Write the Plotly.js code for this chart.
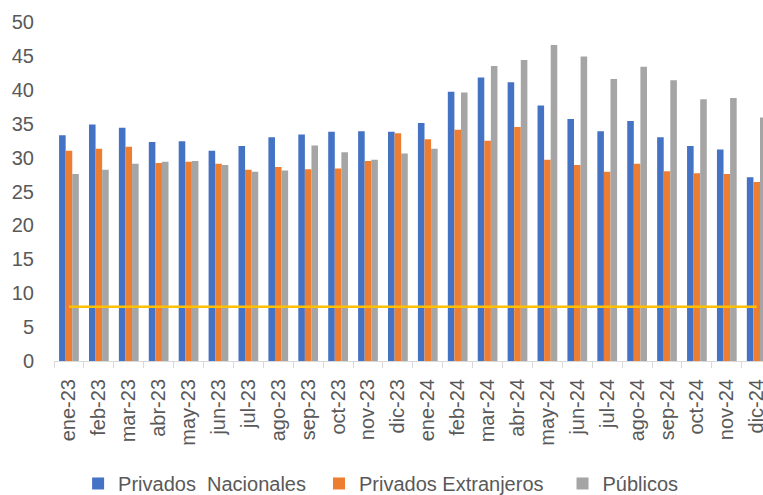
<!DOCTYPE html>
<html><head><meta charset="utf-8">
<script src="https://cdn.plot.ly/plotly-3.0.1.min.js"></script>
<style>html,body{margin:0;padding:0;background:#fff}#c{width:763px;height:495px}</style>
</head><body><div id="c"></div>
<script>
const months = ["ene-23","feb-23","mar-23","abr-23","may-23","jun-23","jul-23","ago-23","sep-23","oct-23","nov-23","dic-23","ene-24","feb-24","mar-24","abr-24","may-24","jun-24","jul-24","ago-24","sep-24","oct-24","nov-24","dic-24"];
const privadosNacionales = [33.3,34.9,34.4,32.3,32.4,31.0,31.7,33.0,33.4,33.8,33.9,33.8,35.1,39.7,41.8,41.1,37.7,35.7,33.9,35.4,33.0,31.7,31.2,27.1];
const privadosExtranjeros = [31.0,31.3,31.6,29.2,29.4,29.1,28.2,28.6,28.3,28.4,29.5,33.6,32.7,34.1,32.5,34.5,29.7,28.9,27.9,29.1,28.0,27.7,27.6,26.4];
const publicos = [27.6,28.2,29.1,29.4,29.5,28.9,27.9,28.1,31.8,30.8,29.7,30.6,31.3,39.6,43.5,44.4,46.6,44.9,41.6,43.4,41.4,38.6,38.8,35.9];
const referencia = months.map(() => 8);
const yTicks = [0,5,10,15,20,25,30,35,40,45,50];
const seriesNames = ["Privados  Nacionales\u2009\u2009", "Privados Extranjeros\u2002\u2009", "Públicos"];

const font = "Liberation Sans, Arial, sans-serif";
const traces = [
  {type:"bar", name:seriesNames[0], x:months, y:privadosNacionales, marker:{color:"#4472C4"}},
  {type:"bar", name:seriesNames[1], x:months, y:privadosExtranjeros, marker:{color:"#ED7D31"}},
  {type:"bar", name:seriesNames[2], x:months, y:publicos, marker:{color:"#A5A5A5"}},
  {type:"scatter", mode:"lines", x:months, y:referencia, line:{color:"#FFC000", width:2.5}, showlegend:false, hoverinfo:"skip"}
];
const layout = {
  width:763, height:495,
  margin:{l:54, r:0, t:20, b:134, autoexpand:false},
  paper_bgcolor:"#fff", plot_bgcolor:"#fff",
  barmode:"group", bargap:0.34, bargroupgap:0,
  font:{family:font, color:"#595959"},
  xaxis:{type:"category", range:[-0.5, 23.21], tickangle:-90, tickfont:{size:20, color:"#595959"},
    showline:true, linecolor:"#d9d9d9", linewidth:1, ticks:"outside", tickson:"boundaries", ticklen:6, tickcolor:"#d9d9d9",
    showgrid:false, zeroline:false, automargin:false, ticklabelstandoff:9},
  yaxis:{range:[0, 50.3], tickvals:yTicks, ticktext:yTicks.map(String), tickfont:{size:20, color:"#595959"},
    showgrid:false, zeroline:false, showline:false, ticks:"", ticklabelstandoff:19, automargin:false},
  legend:{orientation:"h", x:0.034, xanchor:"left", y:-0.302, yanchor:"top", font:{size:20, color:"#595959"},
    traceorder:"normal"},
  showlegend:true
};
Plotly.newPlot("c", traces, layout, {staticPlot:true, displayModeBar:false});
</script></body></html>
